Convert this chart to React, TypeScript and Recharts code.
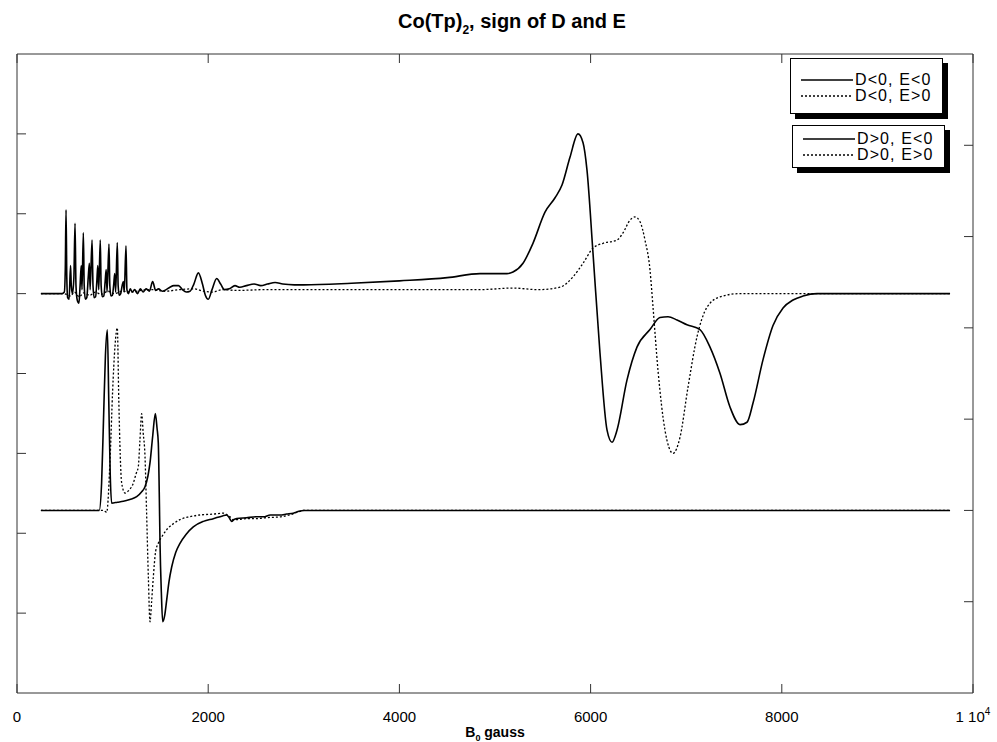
import { LineChart, Line, XAxis, YAxis, Legend, Label } from "recharts";

// field axis (gauss) and tick layout
const xTicks = [0, 2000, 4000, 6000, 8000, 10000];
const leftTicks = [1, 2, 3, 4, 5, 6, 7];
const rightTicks = [1, 2, 3, 4, 5, 6];

const seriesNames = ["D<0, E<0", "D<0, E>0", "D>0, E<0", "D>0, E>0"];

// top pair, left axis (baseline 5)
const negNeg: number[][] = [
  [250, 5], [470, 5], [495, 5.02], [505, 5.3], [513, 6.05], [521, 5.2], [530, 4.95], [545, 4.93],
  [560, 5.35], [568, 5.1], [580, 5.0], [595, 5.2], [607, 5.88], [617, 5.1], [630, 4.92], [648, 4.88],
  [660, 5.1], [672, 5.35], [680, 5.05], [694, 5.76], [703, 5.1], [715, 4.93], [730, 4.95], [745, 5.2],
  [757, 5.38], [765, 5.05], [785, 5.67], [795, 5.1], [807, 4.95], [822, 4.96], [835, 5.15], [845, 5.35],
  [855, 5.05], [871, 5.67], [880, 5.1], [893, 4.96], [908, 4.97], [922, 5.15], [933, 5.3], [942, 5.02],
  [962, 5.62], [971, 5.1], [983, 4.97], [998, 4.98], [1012, 5.12], [1022, 5.25], [1032, 5.02], [1049, 5.64],
  [1058, 5.1], [1070, 4.98], [1085, 5.0], [1100, 5.1], [1112, 5.15], [1122, 5.02], [1140, 5.6], [1150, 5.05],
  [1165, 5.0], [1185, 5.06], [1205, 5.02], [1230, 5.05], [1260, 5.0], [1290, 5.06], [1320, 5.02], [1350, 5.06],
  [1385, 5.03], [1419, 5.15], [1450, 5.04], [1480, 5.06], [1520, 5.03], [1560, 5.05], [1600, 5.08], [1640, 5.1],
  [1690, 5.1], [1730, 5.05], [1770, 5.02], [1810, 5.03], [1850, 5.12], [1897, 5.26], [1940, 5.12], [1970, 4.98],
  [2001, 4.93], [2040, 5.05], [2089, 5.19], [2130, 5.12], [2170, 5.05], [2220, 5.06], [2280, 5.1], [2330, 5.08],
  [2400, 5.1], [2480, 5.12], [2550, 5.1], [2620, 5.12], [2700, 5.14], [2780, 5.12], [2900, 5.11], [3000, 5.11],
  [3500, 5.13], [4000, 5.16], [4500, 5.2], [4843, 5.25], [5125, 5.25], [5188, 5.27], [5293, 5.38], [5397, 5.63],
  [5523, 6.02], [5628, 6.2], [5701, 6.36], [5785, 6.71], [5868, 7.0], [5921, 6.89], [5962, 6.55], [6025, 5.51],
  [6098, 4.26], [6172, 3.29], [6224, 3.14], [6276, 3.29], [6381, 3.92], [6485, 4.33], [6621, 4.55], [6726, 4.7],
  [6810, 4.71], [6904, 4.67], [7008, 4.61], [7144, 4.55], [7249, 4.33], [7354, 4.0], [7458, 3.58], [7563, 3.36],
  [7636, 3.39], [7699, 3.63], [7803, 4.17], [7908, 4.6], [8013, 4.82], [8117, 4.92], [8222, 4.97], [8368, 5.0],
  [9760, 5.0],
];

const negPos: number[][] = [
  [250, 5], [480, 5], [520, 4.99], [560, 4.97], [600, 5.02], [650, 4.96], [700, 5.01], [760, 4.98],
  [820, 5.02], [880, 4.99], [950, 5.03], [1020, 5.0], [1100, 5.03], [1200, 5.02], [1300, 5.04], [1420, 5.05],
  [1550, 5.03], [1700, 5.05], [1850, 5.06], [1950, 5.03], [2050, 5.02], [2150, 5.05], [2300, 5.04], [2600, 5.05],
  [3000, 5.05], [4000, 5.05], [4843, 5.05], [5188, 5.07], [5450, 5.05], [5680, 5.08], [5816, 5.21], [5921, 5.38],
  [6025, 5.57], [6130, 5.63], [6276, 5.67], [6339, 5.76], [6412, 5.92], [6464, 5.96], [6517, 5.9], [6569, 5.67],
  [6621, 5.3], [6653, 4.83], [6705, 4.04], [6778, 3.29], [6862, 3.0], [6935, 3.2], [7019, 3.83], [7113, 4.46],
  [7218, 4.83], [7354, 4.96], [7563, 5.0], [9760, 5.0],
];

// bottom pair, right axis (baseline 2)
const posNeg: number[][] = [
  [250, 2], [860, 2], [885, 2.3], [905, 3.0], [925, 3.7], [945, 3.98], [960, 3.2], [975, 2.4],
  [990, 2.08], [1050, 2.09], [1112, 2.1], [1180, 2.12], [1252, 2.15], [1300, 2.2], [1339, 2.26], [1370, 2.38],
  [1391, 2.52], [1419, 2.81], [1447, 3.06], [1465, 2.9], [1478, 2.74], [1488, 2.2], [1496, 1.64], [1510, 1.1],
  [1524, 0.78], [1545, 0.85], [1566, 1.02], [1590, 1.22], [1618, 1.38], [1660, 1.54], [1705, 1.64], [1770, 1.74],
  [1844, 1.82], [1950, 1.88], [2053, 1.91], [2150, 1.94], [2193, 1.95], [2220, 1.92], [2245, 1.88], [2270, 1.9],
  [2298, 1.91], [2400, 1.92], [2500, 1.93], [2577, 1.93], [2650, 1.95], [2751, 1.95], [2820, 1.96], [2890, 1.97],
  [2950, 1.99], [2995, 2.0], [9760, 2.0],
];

const posPos: number[][] = [
  [250, 2], [900, 2], [938, 1.98], [975, 2.6], [1000, 3.3], [1025, 3.8], [1049, 4.0], [1065, 3.2],
  [1080, 2.6], [1095, 2.3], [1130, 2.19], [1170, 2.22], [1217, 2.3], [1245, 2.4], [1269, 2.48], [1285, 2.75],
  [1304, 3.06], [1320, 2.85], [1339, 2.59], [1355, 2.0], [1374, 1.27], [1391, 0.78], [1408, 1.0], [1426, 1.27],
  [1450, 1.55], [1478, 1.64], [1520, 1.72], [1566, 1.79], [1630, 1.85], [1705, 1.9], [1800, 1.93], [1914, 1.95],
  [2050, 1.96], [2158, 1.97], [2200, 1.95], [2228, 1.93], [2260, 1.9], [2298, 1.9], [2400, 1.91], [2507, 1.91],
  [2600, 1.92], [2751, 1.93], [2850, 1.95], [2960, 1.99], [3000, 2.0], [9760, 2.0],
];

const toRows = (pts: number[][], key: string) => pts.map(([g, v]) => ({ g, [key]: v }));

// top pair hangs on the top x axis, bottom pair on the bottom one (same domain)
const series = [
  { key: "s1", pts: negNeg, xAxis: "xt", axis: "left", dash: undefined },
  { key: "s2", pts: negPos, xAxis: "xt", axis: "left", dash: "2 2" },
  { key: "s3", pts: posNeg, xAxis: "x", axis: "right", dash: undefined },
  { key: "s4", pts: posPos, xAxis: "x", axis: "right", dash: "2 2" },
];

const FONT = "'Liberation Sans', Arial, sans-serif";
const axisColor = "#333";

function NoLabel() {
  return <g />;
}

function XTick(props: any) {
  const { x, y, payload } = props;
  const ty = y + 21;
  if (payload.value === 10000) {
    return (
      <text x={x} y={ty} textAnchor="middle" fontSize={15} fontFamily={FONT} fill="#000">
        <tspan>1 10</tspan>
        <tspan dy={-7} fontSize={10}>4</tspan>
      </text>
    );
  }
  return (
    <text x={x} y={ty} textAnchor="middle" fontSize={15} fontFamily={FONT} fill="#000">
      {payload.value}
    </text>
  );
}

function XLabel(props: any) {
  const { viewBox } = props;
  const cx = viewBox.x + viewBox.width / 2;
  return (
    <text x={cx} y={viewBox.y + 44} textAnchor="middle" fontSize={14} fontWeight="bold" fontFamily={FONT} fill="#000">
      <tspan>B</tspan>
      <tspan dy={4} fontSize={9}>0</tspan>
      <tspan dy={-4}> gauss</tspan>
    </text>
  );
}

function LegendBoxes(props: any) {
  const items = props.payload ?? [];
  const boxes = [
    { left: 790, top: 58, height: 56, pad: 13, rows: items.slice(0, 2) },
    { left: 792, top: 125, height: 43, pad: 5, rows: items.slice(2, 4) },
  ];
  return (
    <div style={{ position: "relative" }}>
      {boxes.map((b, i) => (
        <div
          key={i}
          style={{
            position: "absolute",
            left: b.left,
            top: b.top,
            width: 153,
            height: b.height,
            boxSizing: "border-box",
            border: "1px solid #000",
            background: "#fff",
            boxShadow: "5px 5px 0 #000",
            paddingTop: b.pad,
          }}
        >
          {b.rows.map((e: any) => (
            <div key={e.value} style={{ display: "flex", alignItems: "center", height: 16 }}>
              <svg width={53} height={4} style={{ marginLeft: 10 }}>
                <line
                  x1={0}
                  y1={2}
                  x2={52}
                  y2={2}
                  stroke="#000"
                  strokeWidth={1.3}
                  strokeDasharray={e.payload?.strokeDasharray}
                />
              </svg>
              <span
                style={{
                  fontFamily: FONT,
                  fontSize: 16,
                  lineHeight: "16px",
                  letterSpacing: 1.1,
                  color: "#000",
                  marginLeft: 1,
                }}
              >
                {e.value}
              </span>
            </div>
          ))}
        </div>
      ))}
    </div>
  );
}

export default function App() {
  return (
    <div style={{ position: "absolute", left: 0, top: 0, width: 997, height: 742, background: "#fff" }}>
      <div
        style={{
          position: "absolute",
          left: 398,
          top: 11,
          fontFamily: FONT,
          fontSize: 20,
          fontWeight: "bold",
          lineHeight: "20px",
          whiteSpace: "nowrap",
          color: "#000",
        }}
      >
        Co(Tp)<span style={{ fontSize: 12, verticalAlign: -6 }}>2</span>, sign of D and E
      </div>
      <LineChart width={997} height={742} margin={{ top: 53, right: 23, left: 16, bottom: 19 }}>
        <XAxis
          xAxisId="x"
          dataKey="g"
          type="number"
          domain={[0, 10000]}
          ticks={xTicks}
          interval={0}
          allowDataOverflow
          tickSize={-9}
          tickMargin={17}
          axisLine={{ stroke: axisColor }}
          tickLine={{ stroke: axisColor }}
          tick={<XTick />}
          height={30}
        >
          <Label content={<XLabel />} />
        </XAxis>
        <XAxis
          xAxisId="xt"
          orientation="top"
          dataKey="g"
          type="number"
          domain={[0, 10000]}
          ticks={xTicks}
          interval={0}
          allowDataOverflow
          tickSize={-9}
          tick={<NoLabel />}
          axisLine={{ stroke: axisColor }}
          tickLine={{ stroke: axisColor }}
          height={1}
        />
        <YAxis
          yAxisId="left"
          type="number"
          domain={[0, 8]}
          ticks={leftTicks}
          interval={0}
          allowDataOverflow
          tickSize={-9}
          tick={<NoLabel />}
          axisLine={{ stroke: axisColor }}
          tickLine={{ stroke: axisColor }}
          width={1}
        />
        <YAxis
          yAxisId="right"
          orientation="right"
          type="number"
          domain={[0, 7]}
          ticks={rightTicks}
          interval={0}
          allowDataOverflow
          tickSize={-9}
          tick={<NoLabel />}
          axisLine={{ stroke: axisColor }}
          tickLine={{ stroke: axisColor }}
          width={1}
        />
        <Legend
          layout="horizontal"
          verticalAlign="middle"
          align="center"
          wrapperStyle={{ left: 0, top: 0, width: 997, height: 0 }}
          content={<LegendBoxes />}
        />
        {series.map((s, i) => (
          <Line
            key={s.key}
            data={toRows(s.pts, s.key)}
            dataKey={s.key}
            name={seriesNames[i]}
            xAxisId={s.xAxis}
            yAxisId={s.axis}
            type="monotone"
            stroke="#000"
            strokeWidth={s.dash ? 1.3 : 1.6}
            strokeDasharray={s.dash}
            dot={false}
            activeDot={false}
            isAnimationActive={false}
          />
        ))}
      </LineChart>
    </div>
  );
}
